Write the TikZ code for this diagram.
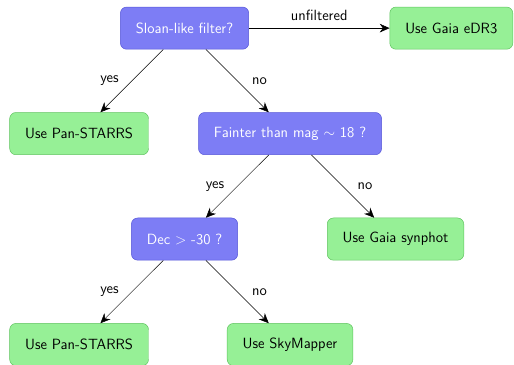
\documentclass[tikz,border=0pt]{standalone}
\usetikzlibrary{positioning,arrows.meta}
\definecolor{askblue}{RGB}{125,125,245}
\definecolor{askborder}{RGB}{85,85,215}
\definecolor{usegreen}{RGB}{150,240,150}
\definecolor{useborder}{RGB}{95,195,95}
\begin{document}
\begin{tikzpicture}[
                    font=\sffamily\fontsize{12}{14.4}\selectfont,
                    decision/.style={rectangle, rounded corners=5pt, draw=askborder, fill=askblue,
                        text=white, minimum height=1.2cm, inner xsep=12.5pt},
                    action/.style={rectangle, rounded corners=5pt, draw=useborder, fill=usegreen,
                        text=black, minimum height=1.2cm, inner xsep=12.5pt},
                    arrow/.style={draw, -{Stealth[length=8pt,width=7pt]}},
                    edge from parent/.style={arrow},
                    level/.style={sibling distance=6cm},
                    level distance=3cm,
                ]
                \useasboundingbox (-5.25cm,0.8cm) rectangle (9.37cm,-9.58cm);
                \node[decision] (sloan) {Sloan-like filter?}
                child {node[action] (panA) {Use Pan-STARRS}
                    edge from parent node[left=2.5mm] (yesA) {yes}
                }
                child {node[decision] (faint) {Fainter than mag $\sim$ 18 ?}
                    child {node[decision] (dec) {Dec $>$ -30 ?}
                        child {node[action] (panB) {Use Pan-STARRS}
                            edge from parent node[left=2.5mm] (yesC) {yes}
                        }
                        child {node[action] (skym) {Use SkyMapper}
                            edge from parent node[right=3mm] (noC) {no}
                        }
                        edge from parent node[left=2.5mm] (yesB) {yes}
                    }
                    child {node[action] (synph) {Use Gaia synphot}
                        edge from parent node[right=3mm] (noB) {no}
                    }
                    edge from parent node[right=3mm] (noA) {no}
                };
                \node[action, right=4cm of sloan] (gaia) {Use Gaia eDR3};
                \draw[arrow] (sloan) -- node[above=1mm] (unf) {unfiltered} (gaia);
                \end{tikzpicture}
\end{document}
